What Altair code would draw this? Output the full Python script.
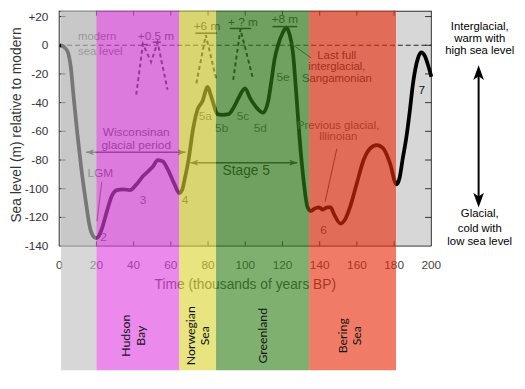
import altair as alt
import pandas as pd

# ---------------- data ----------------
curve_x = [0.3, 2, 4.4, 6.2, 7.9, 9.7, 11.8, 14.2, 16.5, 18.2, 19.8, 21.5, 23, 25.6, 28.3, 31,
           34.5, 38, 41.5, 45, 47.7, 50.4, 53, 55.7, 58.4, 62, 64.5, 66, 67.5, 69.5, 72, 74.3,
           77, 79.8, 81.5, 83.2, 85, 87.5, 91, 93.7, 96.4, 99.9, 102.5, 106.1, 109.6, 112.3,
           114, 115.8, 117.6, 120.2, 122, 123.8, 125.6, 127.3, 129, 130.9, 133.5, 135.3, 137,
           139.7, 141.5, 144.1, 145.9, 147.6, 151.2, 153.8, 156.5, 160, 163.6, 167, 170.7,
           174.2, 177.7, 181.3, 183, 184.5, 186.6, 188.5, 190, 192.7, 194.5, 196.3, 198.5, 200]
curve_y = [0, -0.8, -4, -15, -38, -61, -85, -108, -127, -133, -134.5, -132.5, -127.7, -116,
           -105, -101, -100.4, -101, -97, -91.3, -88, -84.5, -80, -81, -86.7, -97, -103, -101,
           -93, -80, -58, -45, -39, -29, -35, -42, -48, -48.5, -48, -43.5, -36.7, -30, -36.7,
           -43.5, -47, -39, -25.3, -9.4, 0, 8.9, 12.3, 7.7, -4.8, -32, -61.7, -89, -113,
           -115.5, -114, -113, -114.5, -113, -113, -117.5, -124.3, -121, -112, -96, -80, -72,
           -69.7, -72, -82, -97, -92, -80, -64, -45, -28, -9.5, -5, -7, -15, -22]

# dashed high-stand sketches (group, x, y)
hs_group = ["a", "a", "a", "a", "a", "b", "b", "b", "c", "c", "c"]
hs_x = [41.4, 45, 49.4, 52.9, 58.2, 73.7, 78.8, 84.3, 93.5, 97.4, 104.1]
hs_y = [-34.5, 0.9, -11.7, 2.1, -31, -26.6, 7.1, -23.1, -24.2, 11.2, -23.1]

# high-stand level bars
bar_x1 = [44.1, 50.3, 73.2, 91.7, 114.6]
bar_x2 = [47.6, 54.7, 84.7, 103.2, 127.9]
bar_y = [0.5, 2.1, 8.4, 11.7, 13.0]

# coloured period bands
band_start = [1, 20, 64.5, 84.3, 134.3]
band_end = [20, 64.5, 84.3, 134.3, 181]
band_colors = ["#bfbfbf", "#e141e1", "#dad434", "#34811a", "#e72d0d"]

# bottom region labels
region_text = ["Hudson", "Bay", "Norwegian", "Sea", "Greenland", "Bering", "Sea"]
region_x = [36.2, 43.9, 70.9, 78.6, 109.4, 152.4, 160.3]

# axis ticks
x_ticks = [0, 20, 40, 60, 80, 100, 120, 140, 160, 180, 200]
y_ticks = [20, 0, -20, -40, -60, -80, -100, -120, -140]

# annotations (text, x, y, colour, size)
ann_text = ["modern", "sea level", "Wisconsinan", "glacial period", "LGM", "2", "3", "4",
            "6", "7", "5a", "5b", "5c", "5d", "5e", "+0.5 m", "+6 m", "+ ? m", "+8 m",
            "Stage 5", "Last full", "interglacial,", "Sangamonian", "Previous glacial,",
            "Illinoian"]
ann_x = [10.1, 10.1, 41.4, 41.4, 22.1, 23.8, 45, 67.6, 142, 194.9, 78.5, 87.3, 98.8, 108.1,
         120.3, 52, 79.4, 98.8, 121.3, 100.5, 149.2, 149.2, 149.2, 149.9, 149.9]
ann_y = [5.5, -4.8, -60.4, -69.6, -89.4, -134, -107.8, -107.8, -128.8, -31.1, -49.4, -57.4,
         -49.4, -57.4, -22, 6.7, 13.5, 16.5, 18, -87.9, -7.2, -15.5, -23.8, -56.0, -64.3]
ann_color = ["#5a5a5a", "#5a5a5a", "#3a3a3a", "#3a3a3a", "#444444", "#444444", "#444444",
             "#444444", "#444444", "#111111", "#555555", "#555555", "#555555", "#555555",
             "#444444", "#333333", "#333333", "#333333", "#333333", "#222222", "#333333",
             "#333333", "#333333", "#555555", "#555555"]
ann_size = [11.5, 11.5, 12, 12, 12, 12, 12, 12, 12, 12, 12, 12, 12, 12, 12, 12, 12, 12,
            12, 14, 11.5, 11.5, 11.5, 11.5, 11.5]
ann_align = ["left", "left"] + ["center"] * 23

right_text = ["Interglacial,", "warm with", "high sea level", "Glacial,", "cold with",
              "low sea level"]
right_y = [12.8, 4.3, -4.2, -118.0, -127.9, -137.2]

Y_TOP = 24.0
Y_BOTTOM = -226.5
RIGHT_X = 226.0

# ---------------- helpers ----------------
xs = alt.Scale(domain=[0, 200], nice=False, zero=False)
ys = alt.Scale(domain=[Y_BOTTOM, Y_TOP], nice=False, zero=False)
FONT = "Liberation Sans"


def X(f="x"):
    return alt.X(f"{f}:Q", scale=xs, axis=None)


def Y(f="y"):
    return alt.Y(f"{f}:Q", scale=ys, axis=None)


def rules(df, **mk):
    return alt.Chart(df).mark_rule(**mk).encode(
        x=X("x"), x2=alt.X2("x2:Q"), y=Y("y"), y2=alt.Y2("y2:Q"))


# ---------------- layers ----------------
bg = alt.Chart(pd.DataFrame({"x": [0], "x2": [200], "y": [-140], "y2": [Y_TOP]})).mark_rect(
    color="#d7d7d7").encode(x=X("x"), x2=alt.X2("x2:Q"), y=Y("y"), y2=alt.Y2("y2:Q"))

frame_df = pd.DataFrame({
    "x": [0, 200, 0, 0], "x2": [0, 200, 200, 200],
    "y": [-140, -140, -140, Y_TOP - 0.3], "y2": [Y_TOP, Y_TOP, -140, Y_TOP - 0.3]})
frame = rules(frame_df, color="#333333", strokeWidth=1)

inner_y = [v for v in y_ticks if -140 < v]
inner_x = [v for v in x_ticks if 0 < v < 200]
tick_df = pd.DataFrame({
    "x": [0] * len(inner_y) + [200] * len(inner_y) + inner_x + inner_x,
    "x2": [3.4] * len(inner_y) + [196.6] * len(inner_y) + inner_x + inner_x,
    "y": inner_y + inner_y + [-140] * len(inner_x) + [Y_TOP] * len(inner_x),
    "y2": inner_y + inner_y + [-136.6] * len(inner_x) + [Y_TOP - 3.4] * len(inner_x)})
ticks = rules(tick_df, color="#333333", strokeWidth=1)

zero = rules(pd.DataFrame({"x": [0], "x2": [200], "y": [0], "y2": [0]}),
             color="#222222", strokeWidth=1, strokeDash=[5, 3])

curve_df = pd.DataFrame({"x": curve_x, "y": curve_y, "i": range(len(curve_x))})
curve = alt.Chart(curve_df).mark_line(color="#000000", strokeWidth=3.8,
                                      interpolate="monotone").encode(
    x=X(), y=Y(), order="i:Q")

hs_df = pd.DataFrame({"g": hs_group, "x": hs_x, "y": hs_y, "i": range(len(hs_x))})
hs = alt.Chart(hs_df).mark_line(color="#222222", strokeWidth=2, strokeDash=[4, 3]).encode(
    x=X(), y=Y(), detail="g:N", order="i:Q")

bars = rules(pd.DataFrame({"x": bar_x1, "x2": bar_x2, "y": bar_y, "y2": bar_y}),
             color="#222222", strokeWidth=1.5)

# horizontal double arrows
arr_df = pd.DataFrame({"x": [14.4, 70.5], "x2": [67.9, 127.9], "y": [-74.6, -81.9],
                       "y2": [-74.6, -81.9]})
arrows = rules(arr_df, color="#333333", strokeWidth=1.6)
head_l = "M-1,0L0.8,-0.7L0.35,0L0.8,0.7Z"
head_r = "M1,0L-0.8,-0.7L-0.35,0L-0.8,0.7Z"
heads_df = pd.DataFrame({"x": [16.8, 65.5, 72.9, 125.5], "y": [-74.6, -74.6, -81.9, -81.9],
                         "s": [head_l, head_r, head_l, head_r]})
heads = alt.Chart(heads_df).mark_point(filled=True, opacity=1, color="#333333",
                                       size=80).encode(
    x=X(), y=Y(), shape=alt.Shape("s:N", scale=None))

lead_df = pd.DataFrame({"x": [22.9, 124.3, 149.2], "x2": [20.3, 135.4, 142.9],
                        "y": [-95.2, 1.5, -72.1], "y2": [-122.6, -8.9, -109.1]})
leaders = rules(lead_df, color="#444444", strokeWidth=1)

ann_df = pd.DataFrame({"t": ann_text, "x": ann_x, "y": ann_y, "c": ann_color,
                       "s": ann_size, "a": ann_align})
ann_left = alt.Chart(ann_df[ann_df.a == "left"]).mark_text(
    font=FONT, align="left", baseline="middle").encode(
    x=X(), y=Y(), text="t:N", color=alt.Color("c:N", scale=None),
    size=alt.Size("s:Q", scale=None))
ann_center = alt.Chart(ann_df[ann_df.a == "center"]).mark_text(
    font=FONT, align="center", baseline="middle").encode(
    x=X(), y=Y(), text="t:N", color=alt.Color("c:N", scale=None),
    size=alt.Size("s:Q", scale=None))

xlab_df = pd.DataFrame({"x": x_ticks, "y": [-153] * len(x_ticks),
                        "t": [str(v) for v in x_ticks]})
xlabels = alt.Chart(xlab_df).mark_text(font=FONT, fontSize=12, color="#444444",
                                       baseline="middle").encode(x=X(), y=Y(), text="t:N")
xtitle = alt.Chart(pd.DataFrame({"x": [100], "y": [-167.5],
                                 "t": ["Time (thousands of years BP)"]})).mark_text(
    font=FONT, fontSize=14, color="#444444", baseline="middle").encode(
    x=X(), y=Y(), text="t:N")

band_df = pd.DataFrame({"x": band_start, "x2": band_end, "y": [Y_BOTTOM] * 5,
                        "y2": [Y_TOP] * 5, "c": band_colors})
bands = alt.Chart(band_df).mark_rect(opacity=0.625).encode(
    x=X("x"), x2=alt.X2("x2:Q"), y=Y("y"), y2=alt.Y2("y2:Q"),
    color=alt.Color("c:N", scale=None))

region_df = pd.DataFrame({"t": region_text, "x": region_x, "y": [-202.5] * len(region_x)})
regions = alt.Chart(region_df).mark_text(font="Lato", fontSize=12.5, color="#111111",
                                         angle=270, align="center",
                                         baseline="middle").encode(
    x=X(), y=Y(), text="t:N")

right_df = pd.DataFrame({"t": right_text, "x": [RIGHT_X] * len(right_text), "y": right_y})
right_labels = alt.Chart(right_df).mark_text(font=FONT, fontSize=11.5, color="#000000",
                                             baseline="middle").encode(
    x=X(), y=Y(), text="t:N")
big_arrow = rules(pd.DataFrame({"x": [225.4], "x2": [225.4], "y": [-19.6],
                                "y2": [-107.4]}), color="#000000", strokeWidth=2)
big_heads = alt.Chart(pd.DataFrame({
    "x": [225.4, 225.4], "y": [-19.6, -107.4],
    "s": ["M0,-1L0.65,0.8L0,0.35L-0.65,0.8Z", "M0,1L0.65,-0.8L0,-0.35L-0.65,-0.8Z"]})
).mark_point(filled=True, opacity=1, color="#000000", size=280).encode(
    x=X(), y=Y(), shape=alt.Shape("s:N", scale=None))

ylab_df = pd.DataFrame({"x": [-5.8] * len(y_ticks), "y": y_ticks,
                        "t": [("+" + str(v)) if v > 0 else str(v) for v in y_ticks]})
ylabels = alt.Chart(ylab_df).mark_text(font=FONT, fontSize=12, color="#333333",
                                       align="right", baseline="middle").encode(
    x=X(), y=Y(), text="t:N")
ytitle = alt.Chart(pd.DataFrame({"x": [-22.8], "y": [-55.6],
                                 "t": ["Sea level (m) relative to modern"]})).mark_text(
    font=FONT, fontSize=14, color="#333333", angle=270, baseline="middle").encode(
    x=X(), y=Y(), text="t:N")

chart = alt.layer(
    bg, frame, ticks, zero, curve, hs, bars, arrows, heads, leaders, ann_left, ann_center,
    xlabels, xtitle, bands, regions, right_labels, big_arrow, big_heads, ylabels, ytitle
).properties(
    width=378, height=365,
    autosize=alt.AutoSizeParams(type="none"),
    padding={"left": 52, "top": 0, "right": 87, "bottom": 0},
).configure_view(stroke=None)

chart.save("out.html", embed_options={"renderer": "svg", "actions": False})
